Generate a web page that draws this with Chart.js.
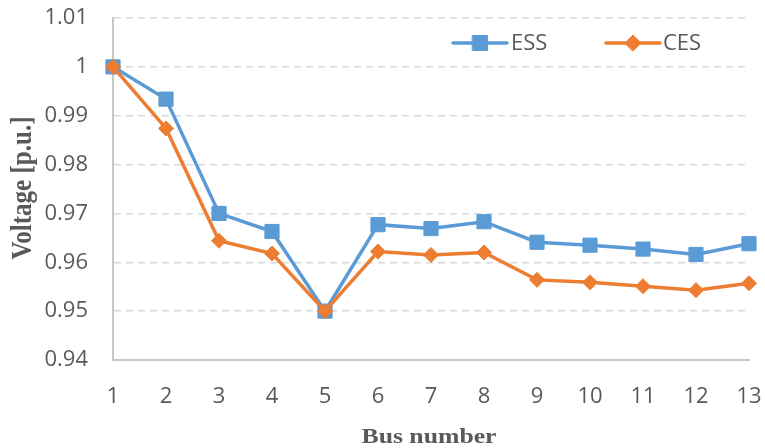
<!DOCTYPE html>
<html>
<head>
<meta charset="utf-8">
<script src="https://cdn.jsdelivr.net/npm/chart.js@4"></script>
<style>
  html, body { margin: 0; padding: 0; background: #ffffff; }
  #wrap { width: 765px; height: 448px; position: relative; }
</style>
</head>
<body>
<div id="wrap"><canvas id="chart" width="765" height="448"></canvas></div>
<script>
// Bus voltage profile, per-unit
const busNumbers = ['1', '2', '3', '4', '5', '6', '7', '8', '9', '10', '11', '12', '13'];
const essVoltage = [1.0000, 0.9934, 0.9700, 0.9663, 0.9500, 0.9677, 0.9669, 0.9683, 0.9641, 0.9635, 0.9627, 0.9616, 0.9638];
const cesVoltage = [1.0000, 0.9874, 0.9644, 0.9618, 0.9500, 0.9622, 0.9615, 0.9620, 0.9564, 0.9559, 0.9551, 0.9543, 0.9557];
const yTickValues = [0.94, 0.95, 0.96, 0.97, 0.98, 0.99, 1.00, 1.01];

const BLUE = '#5B9BD5';
const ORANGE = '#ED7D31';
const TEXT = '#595959';
const tickFont = { family: "'Open Sans', 'Noto Sans', sans-serif", size: 22 };

// Keep the plot box fixed: no extra room reserved for edge labels
function clearEdgePadding(scale) {
  scale.paddingTop = 0;
  scale.paddingBottom = 0;
  scale.paddingLeft = 0;
  scale.paddingRight = 0;
}

// Legend and axis titles drawn on top of the plot area
const decorations = {
  id: 'decorations',
  afterDraw(chart) {
    const ctx = chart.ctx;
    const legendY = 43;
    const items = [
      { label: 'ESS', color: BLUE, style: 'rect', radius: 10.5, x0: 453, x1: 507, tx: 511 },
      { label: 'CES', color: ORANGE, style: 'rectRot', radius: 8, x0: 606, x1: 660, tx: 663 }
    ];
    ctx.save();
    items.forEach(it => {
      ctx.strokeStyle = it.color;
      ctx.lineWidth = 3.5;
      ctx.lineCap = 'round';
      ctx.beginPath();
      ctx.moveTo(it.x0, legendY);
      ctx.lineTo(it.x1, legendY);
      ctx.stroke();
      ctx.fillStyle = it.color;
      ctx.lineWidth = 1;
      Chart.helpers.drawPoint(ctx, { pointStyle: it.style, radius: it.radius, borderWidth: 1 }, (it.x0 + it.x1) / 2, legendY);
      ctx.fillStyle = TEXT;
      ctx.font = "22px 'Open Sans', 'Noto Sans', sans-serif";
      ctx.textAlign = 'left';
      ctx.textBaseline = 'middle';
      ctx.fillText(it.label, it.tx, legendY + 1);
    });

    // x axis title (wide bold serif)
    ctx.fillStyle = TEXT;
    ctx.font = "bold 20px 'Liberation Serif', 'Times New Roman', serif";
    ctx.textAlign = 'center';
    ctx.textBaseline = 'alphabetic';
    const xTitle = 'Bus number';
    const xw = ctx.measureText(xTitle).width;
    ctx.save();
    ctx.translate(429, 443);
    ctx.scale(135 / xw, 1);
    ctx.fillText(xTitle, 0, 0);
    ctx.restore();

    // y axis title, rotated
    ctx.font = "bold 26px 'Liberation Serif', 'Times New Roman', serif";
    const yTitle = 'Voltage [p.u.]';
    const yw = ctx.measureText(yTitle).width;
    ctx.save();
    ctx.translate(31, 188);
    ctx.rotate(-Math.PI / 2);
    ctx.scale(143 / yw, 1.15);
    ctx.textBaseline = 'alphabetic';
    ctx.fillText(yTitle, 0, 0);
    ctx.restore();
    ctx.restore();
  }
};

new Chart(document.getElementById('chart'), {
  type: 'line',
  data: {
    labels: busNumbers,
    datasets: [
      {
        label: 'ESS',
        data: essVoltage,
        borderColor: BLUE,
        backgroundColor: BLUE,
        borderWidth: 3.5,
        pointStyle: 'rect',
        pointRadius: 10,
        pointBorderWidth: 1,
        pointHoverRadius: 10,
        tension: 0,
        order: 2
      },
      {
        label: 'CES',
        data: cesVoltage,
        borderColor: ORANGE,
        backgroundColor: ORANGE,
        borderWidth: 3.5,
        pointStyle: 'rectRot',
        pointRadius: 7.5,
        pointBorderWidth: 1,
        pointHoverRadius: 7.5,
        tension: 0,
        order: 1
      }
    ]
  },
  options: {
    responsive: false,
    animation: false,
    devicePixelRatio: 1,
    layout: { padding: { top: 18, right: 16, bottom: 0, left: 0 } },
    plugins: {
      legend: { display: false },
      tooltip: { enabled: false }
    },
    scales: {
      x: {
        type: 'category',
        offset: false,
        grid: { display: false, drawTicks: false },
        border: { display: true, color: '#c8c8c8', width: 2 },
        ticks: { color: TEXT, font: tickFont, padding: 24, maxRotation: 0, autoSkip: false },
        afterFit(scale) { scale.height = 88; clearEdgePadding(scale); }
      },
      y: {
        min: 0.94,
        max: 1.01,
        afterBuildTicks(scale) { scale.ticks = yTickValues.map(v => ({ value: v })); },
        grid: { color: '#d9d9d9', lineWidth: 1.5, drawTicks: false },
        border: { display: true, color: '#c8c8c8', width: 2, dash: [7, 5] },
        ticks: {
          color: TEXT,
          font: tickFont,
          padding: 25,
          callback: v => String(parseFloat(Number(v).toFixed(2)))
        },
        afterFit(scale) { scale.width = 113; clearEdgePadding(scale); }
      }
    }
  },
  plugins: [decorations]
});
</script>
</body>
</html>
